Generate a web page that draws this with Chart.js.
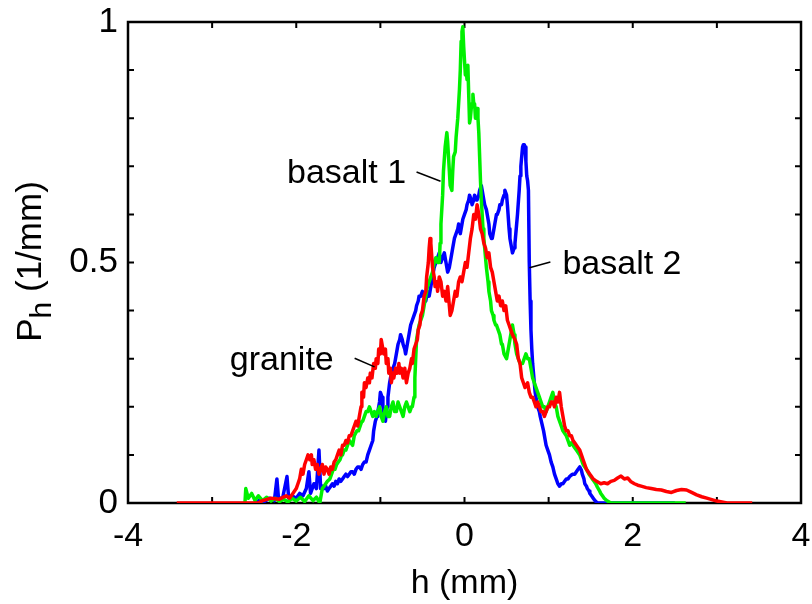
<!DOCTYPE html>
<html>
<head>
<meta charset="utf-8">
<script src="https://cdn.jsdelivr.net/npm/chart.js@4.4.1/dist/chart.umd.min.js"></script>
<style>
  html, body { margin: 0; padding: 0; background: #fff; }
  #wrap { width: 812px; height: 604px; }
</style>
</head>
<body>
<div id="wrap"><canvas id="chart"></canvas></div>
<script>
// Height distributions P_h (1/mm) against h (mm) as [h, P] pairs
const granite = [
  [-3.42, 0], [-2.45, 0], [-2.4, 0.005], [-2.3, 0.01], [-2.2, 0.008], [-2.12, 0.015], [-2.08, 0.01],
  [-2.04, 0.02], [-2.0, 0.03], [-1.98, 0.04], [-1.96, 0.05], [-1.94, 0.07], [-1.92, 0.06], [-1.9, 0.08],
  [-1.88, 0.09], [-1.86, 0.1], [-1.84, 0.09], [-1.82, 0.1], [-1.81, 0.08], [-1.79, 0.09], [-1.77, 0.07],
  [-1.75, 0.08], [-1.73, 0.06], [-1.71, 0.07], [-1.69, 0.08], [-1.67, 0.06], [-1.65, 0.075], [-1.63, 0.07],
  [-1.61, 0.06], [-1.59, 0.075], [-1.57, 0.07], [-1.55, 0.085], [-1.53, 0.09], [-1.51, 0.1], [-1.49, 0.11],
  [-1.47, 0.1], [-1.45, 0.12], [-1.43, 0.12], [-1.41, 0.13], [-1.39, 0.125], [-1.37, 0.14], [-1.35, 0.14],
  [-1.33, 0.15], [-1.31, 0.16], [-1.29, 0.17], [-1.27, 0.16], [-1.25, 0.18], [-1.23, 0.2], [-1.22, 0.23],
  [-1.2, 0.22], [-1.19, 0.25], [-1.17, 0.24], [-1.15, 0.26], [-1.13, 0.25], [-1.12, 0.27], [-1.1, 0.26],
  [-1.08, 0.29], [-1.06, 0.28], [-1.05, 0.3], [-1.03, 0.29], [-1.02, 0.32], [-1.0, 0.31], [-0.99, 0.34],
  [-0.97, 0.32], [-0.96, 0.31], [-0.94, 0.32], [-0.93, 0.29], [-0.91, 0.3], [-0.9, 0.27], [-0.88, 0.28],
  [-0.87, 0.25], [-0.85, 0.27], [-0.84, 0.26], [-0.82, 0.28], [-0.8, 0.27], [-0.78, 0.29], [-0.77, 0.27],
  [-0.75, 0.28], [-0.73, 0.26], [-0.71, 0.28], [-0.69, 0.25], [-0.67, 0.27], [-0.65, 0.28], [-0.63, 0.3],
  [-0.62, 0.29], [-0.6, 0.32], [-0.58, 0.33], [-0.56, 0.34], [-0.55, 0.36], [-0.53, 0.37], [-0.52, 0.39],
  [-0.5, 0.4], [-0.48, 0.43], [-0.46, 0.44], [-0.45, 0.47], [-0.43, 0.5], [-0.42, 0.53], [-0.41, 0.55],
  [-0.4, 0.54], [-0.38, 0.49], [-0.36, 0.47], [-0.35, 0.45], [-0.33, 0.46], [-0.32, 0.44], [-0.3, 0.47],
  [-0.28, 0.46], [-0.26, 0.43], [-0.24, 0.44], [-0.22, 0.42], [-0.2, 0.45], [-0.18, 0.41], [-0.17, 0.39],
  [-0.15, 0.4], [-0.13, 0.42], [-0.11, 0.44], [-0.09, 0.43], [-0.07, 0.46], [-0.05, 0.47], [-0.03, 0.46],
  [-0.01, 0.48], [0.01, 0.5], [0.03, 0.49], [0.05, 0.52], [0.07, 0.55], [0.09, 0.57], [0.11, 0.6],
  [0.13, 0.59], [0.15, 0.62], [0.17, 0.6], [0.19, 0.57], [0.21, 0.56], [0.23, 0.54], [0.25, 0.53],
  [0.27, 0.51], [0.29, 0.52], [0.31, 0.49], [0.33, 0.48], [0.35, 0.46], [0.37, 0.44], [0.39, 0.42],
  [0.41, 0.43], [0.43, 0.41], [0.45, 0.42], [0.47, 0.4], [0.49, 0.41], [0.51, 0.38], [0.53, 0.37],
  [0.55, 0.36], [0.57, 0.35], [0.6, 0.34], [0.62, 0.33], [0.64, 0.3], [0.66, 0.29], [0.68, 0.26],
  [0.7, 0.25], [0.72, 0.24], [0.75, 0.25], [0.77, 0.23], [0.79, 0.22], [0.81, 0.22], [0.83, 0.21],
  [0.85, 0.2], [0.87, 0.21], [0.89, 0.2], [0.91, 0.19], [0.93, 0.19], [0.95, 0.18], [0.97, 0.19],
  [0.99, 0.2], [1.01, 0.2], [1.03, 0.21], [1.05, 0.21], [1.07, 0.2], [1.09, 0.22], [1.11, 0.21],
  [1.13, 0.23], [1.15, 0.2], [1.17, 0.18], [1.19, 0.16], [1.21, 0.15], [1.23, 0.15], [1.25, 0.14],
  [1.27, 0.14], [1.29, 0.13], [1.31, 0.125], [1.33, 0.12], [1.35, 0.115], [1.37, 0.11], [1.39, 0.1],
  [1.41, 0.09], [1.43, 0.08], [1.45, 0.07], [1.47, 0.065], [1.49, 0.06], [1.51, 0.055], [1.53, 0.05],
  [1.57, 0.045], [1.62, 0.04], [1.66, 0.042], [1.7, 0.04], [1.74, 0.045], [1.78, 0.047], [1.82, 0.052],
  [1.86, 0.056], [1.9, 0.05], [1.94, 0.052], [1.98, 0.044], [2.02, 0.04], [2.06, 0.037], [2.1, 0.035],
  [2.16, 0.032], [2.22, 0.03], [2.28, 0.028], [2.34, 0.027], [2.4, 0.024], [2.46, 0.022], [2.52, 0.026],
  [2.58, 0.028], [2.64, 0.027], [2.7, 0.022], [2.76, 0.017], [2.82, 0.013], [2.88, 0.01], [2.94, 0.007],
  [3.0, 0.004], [3.06, 0.002], [3.12, 0], [3.42, 0]
];

const basalt1 = [
  [-2.61, 0], [-2.6, 0.03], [-2.57, 0.01], [-2.53, 0.02], [-2.49, 0.005], [-2.45, 0.015], [-2.4, 0.005],
  [-2.35, 0.012], [-2.3, 0.004], [-2.25, 0.01], [-2.2, 0.003], [-2.15, 0.008], [-2.1, 0.002], [-2.05, 0.01],
  [-2.0, 0.004], [-1.95, 0.012], [-1.9, 0.003], [-1.85, 0.015], [-1.8, 0.005], [-1.76, 0.012], [-1.72, 0.0],
  [-1.69, 0.03], [-1.67, 0.035], [-1.65, 0.04], [-1.63, 0.045], [-1.6, 0.05], [-1.58, 0.06], [-1.56, 0.07],
  [-1.54, 0.07], [-1.52, 0.08], [-1.5, 0.085], [-1.48, 0.09], [-1.46, 0.1], [-1.45, 0.1], [-1.43, 0.11],
  [-1.41, 0.11], [-1.39, 0.12], [-1.37, 0.13], [-1.35, 0.125], [-1.33, 0.12], [-1.31, 0.14], [-1.28, 0.15],
  [-1.26, 0.15], [-1.24, 0.16], [-1.22, 0.17], [-1.21, 0.17], [-1.19, 0.18], [-1.17, 0.19], [-1.15, 0.19],
  [-1.13, 0.2], [-1.11, 0.19], [-1.09, 0.18], [-1.07, 0.19], [-1.05, 0.18], [-1.03, 0.19], [-1.01, 0.2],
  [-0.99, 0.18], [-0.97, 0.17], [-0.95, 0.19], [-0.93, 0.2], [-0.91, 0.18], [-0.89, 0.18], [-0.87, 0.2],
  [-0.85, 0.21], [-0.83, 0.19], [-0.81, 0.19], [-0.79, 0.21], [-0.77, 0.2], [-0.75, 0.19], [-0.73, 0.18],
  [-0.71, 0.2], [-0.69, 0.21], [-0.67, 0.2], [-0.65, 0.19], [-0.63, 0.2], [-0.62, 0.2], [-0.6, 0.22],
  [-0.59, 0.26], [-0.58, 0.3], [-0.57, 0.34], [-0.55, 0.36], [-0.54, 0.37], [-0.52, 0.38], [-0.5, 0.39],
  [-0.48, 0.41], [-0.46, 0.43], [-0.44, 0.45], [-0.42, 0.46], [-0.4, 0.47], [-0.38, 0.48], [-0.36, 0.5],
  [-0.34, 0.51], [-0.32, 0.5], [-0.3, 0.5], [-0.29, 0.54], [-0.28, 0.58], [-0.27, 0.61], [-0.26, 0.64],
  [-0.25, 0.69], [-0.23, 0.74], [-0.21, 0.77], [-0.2, 0.75], [-0.19, 0.72], [-0.17, 0.66], [-0.15, 0.65],
  [-0.14, 0.69], [-0.13, 0.72], [-0.11, 0.73], [-0.1, 0.76], [-0.08, 0.8], [-0.07, 0.83], [-0.06, 0.86],
  [-0.05, 0.9], [-0.04, 0.96], [-0.03, 0.98], [-0.02, 0.99], [-0.01, 0.95], [0.0, 0.92], [0.01, 0.89],
  [0.02, 0.9], [0.03, 0.88], [0.04, 0.91], [0.05, 0.85], [0.06, 0.79], [0.07, 0.8], [0.08, 0.82],
  [0.09, 0.83], [0.1, 0.85], [0.11, 0.83], [0.12, 0.83], [0.13, 0.8], [0.14, 0.81], [0.15, 0.82],
  [0.16, 0.8], [0.17, 0.77], [0.18, 0.72], [0.19, 0.67], [0.2, 0.63], [0.22, 0.57], [0.23, 0.55],
  [0.25, 0.51], [0.26, 0.49], [0.28, 0.46], [0.29, 0.44], [0.31, 0.42], [0.32, 0.4], [0.34, 0.39],
  [0.35, 0.38], [0.37, 0.37], [0.38, 0.37], [0.4, 0.36], [0.42, 0.35], [0.44, 0.33], [0.45, 0.33],
  [0.47, 0.31], [0.5, 0.3], [0.52, 0.32], [0.53, 0.33], [0.55, 0.35], [0.57, 0.37], [0.59, 0.35],
  [0.6, 0.33], [0.62, 0.31], [0.64, 0.3], [0.66, 0.29], [0.69, 0.29], [0.71, 0.3], [0.73, 0.31],
  [0.75, 0.3], [0.77, 0.3], [0.79, 0.28], [0.81, 0.26], [0.83, 0.25], [0.85, 0.24], [0.87, 0.23],
  [0.89, 0.22], [0.91, 0.21], [0.93, 0.2], [0.95, 0.2], [0.97, 0.19], [0.99, 0.2], [1.01, 0.21],
  [1.03, 0.22], [1.05, 0.23], [1.07, 0.21], [1.09, 0.2], [1.11, 0.18], [1.13, 0.17], [1.15, 0.16],
  [1.17, 0.15], [1.19, 0.145], [1.21, 0.14], [1.23, 0.13], [1.25, 0.12], [1.27, 0.125], [1.29, 0.12],
  [1.31, 0.115], [1.33, 0.11], [1.35, 0.105], [1.37, 0.1], [1.39, 0.09], [1.41, 0.08], [1.43, 0.075],
  [1.45, 0.07], [1.48, 0.06], [1.5, 0.055], [1.52, 0.05], [1.54, 0.045], [1.56, 0.04], [1.58, 0.033],
  [1.6, 0.027], [1.62, 0.02], [1.64, 0.015], [1.66, 0.01], [1.69, 0.005], [1.74, 0], [2.63, 0]
];

const basalt2 = [
  [-2.49, 0], [-2.44, 0.005], [-2.38, 0.003], [-2.32, 0.01], [-2.26, 0.005], [-2.23, 0.05], [-2.21, 0.008],
  [-2.16, 0.012], [-2.11, 0.055], [-2.09, 0.01], [-2.05, 0.015], [-2.0, 0.01], [-1.96, 0.02], [-1.92, 0.015],
  [-1.88, 0.03], [-1.85, 0.065], [-1.83, 0.02], [-1.79, 0.04], [-1.76, 0.03], [-1.73, 0.11], [-1.71, 0.03],
  [-1.69, 0.035], [-1.67, 0.03], [-1.65, 0.035], [-1.63, 0.025], [-1.61, 0.03], [-1.59, 0.035], [-1.57, 0.04],
  [-1.55, 0.035], [-1.53, 0.045], [-1.51, 0.04], [-1.49, 0.05], [-1.47, 0.045], [-1.45, 0.05], [-1.43, 0.055],
  [-1.41, 0.06], [-1.39, 0.055], [-1.37, 0.06], [-1.35, 0.065], [-1.33, 0.065], [-1.31, 0.06], [-1.29, 0.07],
  [-1.27, 0.075], [-1.25, 0.075], [-1.23, 0.07], [-1.21, 0.08], [-1.19, 0.085], [-1.17, 0.085], [-1.15, 0.1],
  [-1.13, 0.11], [-1.11, 0.12], [-1.09, 0.13], [-1.08, 0.15], [-1.06, 0.17], [-1.04, 0.18], [-1.03, 0.19],
  [-1.01, 0.21], [-1.0, 0.23], [-0.98, 0.22], [-0.97, 0.2], [-0.95, 0.18], [-0.94, 0.17], [-0.92, 0.2],
  [-0.91, 0.22], [-0.89, 0.25], [-0.88, 0.26], [-0.86, 0.27], [-0.85, 0.28], [-0.83, 0.29], [-0.82, 0.3],
  [-0.8, 0.32], [-0.79, 0.33], [-0.77, 0.34], [-0.76, 0.35], [-0.74, 0.34], [-0.73, 0.33], [-0.71, 0.32],
  [-0.7, 0.31], [-0.68, 0.33], [-0.67, 0.34], [-0.65, 0.36], [-0.64, 0.37], [-0.62, 0.38], [-0.6, 0.39],
  [-0.58, 0.4], [-0.57, 0.41], [-0.55, 0.42], [-0.54, 0.43], [-0.52, 0.43], [-0.5, 0.44], [-0.48, 0.43],
  [-0.46, 0.42], [-0.44, 0.44], [-0.42, 0.43], [-0.4, 0.45], [-0.38, 0.47], [-0.36, 0.49], [-0.34, 0.5],
  [-0.32, 0.51], [-0.3, 0.52], [-0.28, 0.5], [-0.26, 0.51], [-0.24, 0.52], [-0.22, 0.5], [-0.2, 0.48],
  [-0.18, 0.49], [-0.16, 0.51], [-0.14, 0.53], [-0.12, 0.55], [-0.1, 0.56], [-0.08, 0.57], [-0.07, 0.58],
  [-0.05, 0.56], [-0.04, 0.57], [-0.02, 0.59], [0.0, 0.6], [0.02, 0.61], [0.03, 0.62], [0.05, 0.63],
  [0.06, 0.64], [0.08, 0.63], [0.09, 0.62], [0.11, 0.63], [0.12, 0.64], [0.14, 0.63], [0.15, 0.63],
  [0.17, 0.64], [0.18, 0.65], [0.2, 0.66], [0.21, 0.65], [0.23, 0.63], [0.24, 0.62], [0.26, 0.61],
  [0.27, 0.6], [0.29, 0.58], [0.3, 0.56], [0.32, 0.55], [0.33, 0.55], [0.35, 0.57], [0.36, 0.58],
  [0.38, 0.6], [0.39, 0.6], [0.41, 0.61], [0.42, 0.62], [0.44, 0.62], [0.45, 0.63], [0.47, 0.64],
  [0.48, 0.65], [0.5, 0.64], [0.51, 0.62], [0.53, 0.57], [0.54, 0.55], [0.56, 0.53], [0.57, 0.52],
  [0.59, 0.53], [0.6, 0.54], [0.62, 0.58], [0.63, 0.6], [0.65, 0.65], [0.66, 0.68], [0.67, 0.7],
  [0.68, 0.72], [0.69, 0.74], [0.7, 0.745], [0.71, 0.745], [0.72, 0.74], [0.73, 0.71], [0.74, 0.68],
  [0.75, 0.67], [0.76, 0.65], [0.77, 0.5], [0.78, 0.42], [0.79, 0.36], [0.8, 0.32], [0.81, 0.29],
  [0.83, 0.25], [0.84, 0.23], [0.86, 0.21], [0.87, 0.2], [0.89, 0.19], [0.9, 0.18], [0.92, 0.165],
  [0.94, 0.15], [0.96, 0.13], [0.97, 0.12], [0.99, 0.11], [1.01, 0.1], [1.03, 0.085], [1.05, 0.075],
  [1.07, 0.06], [1.09, 0.05], [1.11, 0.04], [1.13, 0.035], [1.15, 0.04], [1.17, 0.04], [1.19, 0.045],
  [1.21, 0.05], [1.23, 0.05], [1.25, 0.055], [1.27, 0.058], [1.29, 0.06], [1.31, 0.06], [1.33, 0.065],
  [1.35, 0.07], [1.37, 0.075], [1.39, 0.068], [1.4, 0.06], [1.42, 0.05], [1.43, 0.04], [1.45, 0.035],
  [1.46, 0.03], [1.48, 0.025], [1.49, 0.02], [1.51, 0.015], [1.53, 0.01], [1.55, 0.005], [1.58, 0],
  [2.5, 0]
];

// axis ticks (labelled ones come from Chart.js, all get inward marks)
const xMarks = [-4, -3, -2, -1, 0, 1, 2, 3, 4];
const yMarks = [0, 0.1, 0.2, 0.3, 0.4, 0.5, 0.6, 0.7, 0.8, 0.9, 1];

// text labels with leader lines, in data coordinates
const labels = [
  { text: 'basalt 1', at: [-2.11, 0.665], from: [-0.57, 0.688], to: [-0.285, 0.669] },
  { text: 'basalt 2', at: [1.164, 0.476], from: [0.772, 0.489], to: [1.021, 0.501] },
  { text: 'granite', at: [-2.79, 0.2765], from: [-1.306, 0.301], to: [-1.069, 0.283] }
];

const FONT = '"Liberation Sans", Arial, Helvetica, sans-serif';
const toPoints = arr => arr.map(([x, y]) => ({ x, y }));

const framePlugin = {
  id: 'frame',
  beforeDatasetsDraw(chart) {
    const { ctx, chartArea: a, scales: { x, y } } = chart;
    ctx.save();
    ctx.strokeStyle = '#000';
    ctx.lineWidth = 2.5;
    ctx.strokeRect(a.left, a.top, a.right - a.left, a.bottom - a.top);
    ctx.lineWidth = 2;
    ctx.beginPath();
    xMarks.forEach(v => {
      const px = x.getPixelForValue(v);
      ctx.moveTo(px, a.bottom); ctx.lineTo(px, a.bottom - 6);
      ctx.moveTo(px, a.top); ctx.lineTo(px, a.top + 6);
    });
    yMarks.forEach(v => {
      const py = y.getPixelForValue(v);
      ctx.moveTo(a.left, py); ctx.lineTo(a.left + 6, py);
      ctx.moveTo(a.right, py); ctx.lineTo(a.right - 6, py);
    });
    ctx.stroke();
    ctx.restore();
  },
  afterDraw(chart) {
    const { ctx, chartArea: a, scales: { x, y } } = chart;
    ctx.save();
    ctx.fillStyle = '#000';
    ctx.strokeStyle = '#000';
    ctx.textBaseline = 'alphabetic';
    ctx.textAlign = 'left';
    ctx.font = '34px ' + FONT;
    labels.forEach(l => {
      ctx.fillText(l.text, x.getPixelForValue(l.at[0]), y.getPixelForValue(l.at[1]));
      ctx.lineWidth = 1.5;
      ctx.beginPath();
      ctx.moveTo(x.getPixelForValue(l.from[0]), y.getPixelForValue(l.from[1]));
      ctx.lineTo(x.getPixelForValue(l.to[0]), y.getPixelForValue(l.to[1]));
      ctx.stroke();
    });

    // y axis title: P with subscript h, rotated
    const big = '35px ' + FONT, small = '30px ' + FONT;
    ctx.font = big;
    const wP = ctx.measureText('P').width;
    const wRest = ctx.measureText(' (1/mm)').width;
    ctx.font = small;
    const wH = ctx.measureText('h').width;
    const total = wP + wH + wRest;
    ctx.translate(41, (a.top + a.bottom) / 2 - 1);
    ctx.rotate(-Math.PI / 2);
    let cx = -total / 2;
    ctx.font = big;
    ctx.fillText('P', cx, 0);
    cx += wP;
    ctx.font = small;
    ctx.fillText('h', cx, 10);
    cx += wH;
    ctx.font = big;
    ctx.fillText(' (1/mm)', cx, 0);
    ctx.restore();
  }
};

new Chart(document.getElementById('chart'), {
  type: 'scatter',
  data: {
    datasets: [
      { label: 'granite', data: toPoints(granite), borderColor: '#ff0000' },
      { label: 'basalt 1', data: toPoints(basalt1), borderColor: '#00f000' },
      { label: 'basalt 2', data: toPoints(basalt2), borderColor: '#0000ff' }
    ]
  },
  options: {
    responsive: true,
    maintainAspectRatio: false,
    animation: false,
    showLine: true,
    elements: {
      point: { radius: 0, hoverRadius: 0 },
      line: { borderWidth: 3.5, tension: 0, borderJoinStyle: 'round' }
    },
    layout: { padding: { top: 22, right: 11, left: 0, bottom: 0 } },
    plugins: {
      legend: { display: false },
      tooltip: { enabled: false }
    },
    scales: {
      x: {
        type: 'linear',
        min: -4,
        max: 4,
        grid: { display: false, drawTicks: false },
        border: { display: false },
        ticks: { stepSize: 2, padding: 13, color: '#000', font: { family: FONT, size: 34 }, maxRotation: 0 },
        title: { display: true, text: 'h (mm)', color: '#000', font: { family: FONT, size: 34 }, padding: { top: 0, bottom: 0 } },
        afterFit: s => { s.height = 101; s.paddingLeft = 0; s.paddingRight = 0; }
      },
      y: {
        min: 0,
        max: 1,
        grid: { display: false, drawTicks: false },
        border: { display: false },
        ticks: { stepSize: 0.5, padding: 10, color: '#000', font: { family: FONT, size: 35 }, callback: v => String(v) },
        afterFit: s => { s.width = 128; s.paddingTop = 0; s.paddingBottom = 0; }
      }
    }
  },
  plugins: [framePlugin]
});
</script>
</body>
</html>
